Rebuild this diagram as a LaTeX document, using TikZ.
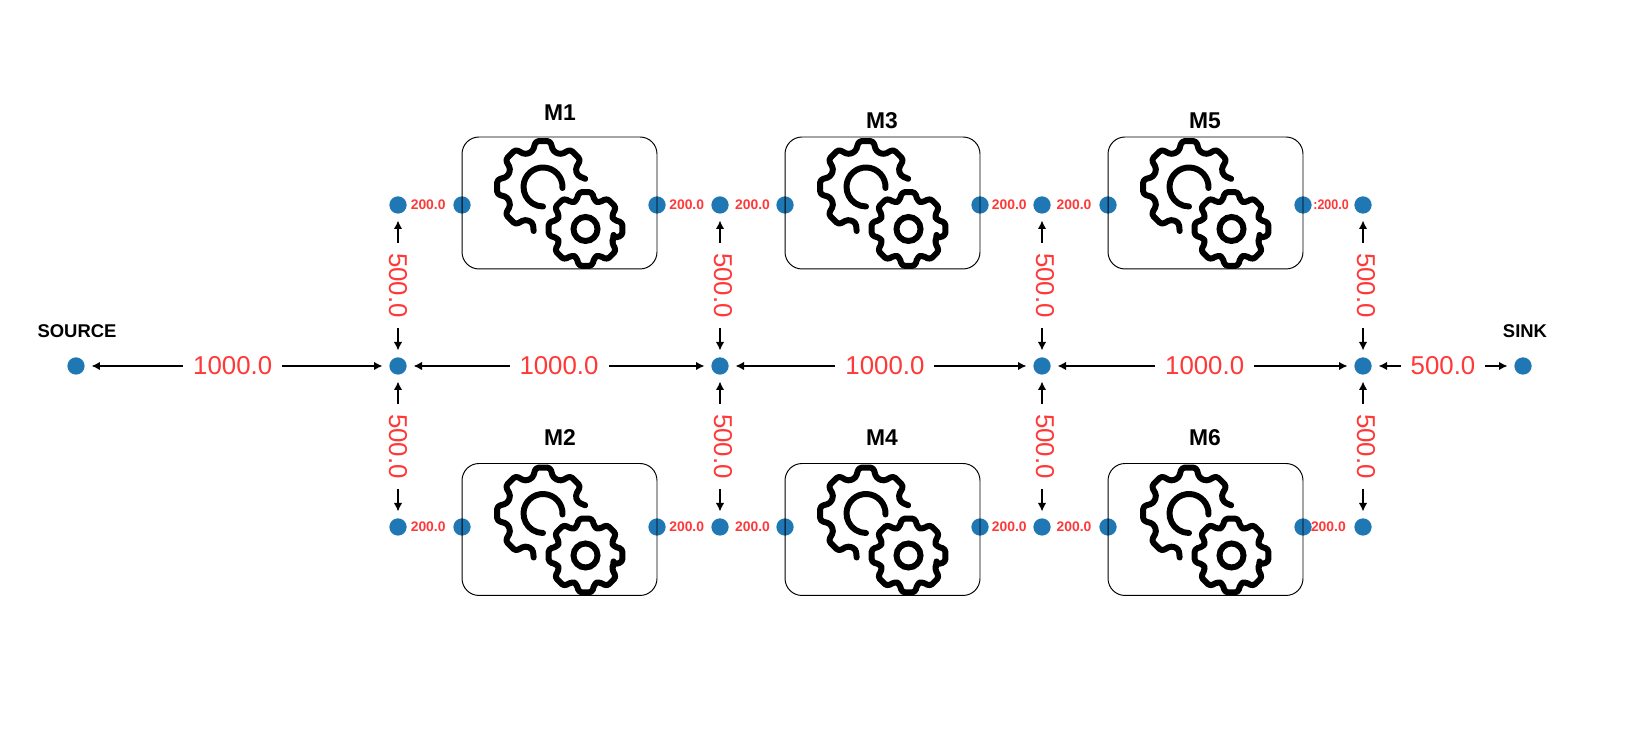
\documentclass[tikz,border=0pt]{standalone}
\usepackage{fontspec}
\setmainfont{Liberation Sans}
\usetikzlibrary{arrows.meta}

\definecolor{portblue}{HTML}{1F77B4}
\definecolor{labelred}{HTML}{FF3838}

\tikzset{
  port/.style={circle, fill=portblue, minimum size=0.346cm, inner sep=0pt},
  machine/.style={draw, rectangle, rounded corners=0.34cm, minimum width=3.9cm, minimum height=2.64cm, line width=0.55pt},
  title/.style={font=\bfseries\fontsize{13}{15}\selectfont},
  endtitle/.style={font=\bfseries\fontsize{10.5}{12}\selectfont},
  biglabel/.style={font=\fontsize{14.7}{16}\selectfont, text=labelred, fill=white, inner sep=0.2cm, minimum height=0.4cm},
  smalllabel/.style={font=\bfseries\fontsize{7.9}{9}\selectfont, text=labelred, inner sep=0pt},
  link/.style={{Latex[length=0.17cm,width=0.17cm]}-{Latex[length=0.17cm,width=0.17cm]}, line width=0.85pt, shorten >=0.13cm, shorten <=0.13cm},
  gearline/.style={line width=3.4pt, line cap=round, line join=round, rounded corners=1.8pt},
  gears/.pic={
    % big wheel, open on the side of the small one
    \draw[gearline, shift={(-16.5,16)}] (11:43) -- (18:36.5)
      \foreach \a in {45,90,...,225} { -- (\a-16:37) -- (\a-9:46.5) -- (\a+9:46.5) -- (\a+16:37) }
      -- (254:37) -- (258:45);
    \draw[gearline, shift={(-16.5,16)}] (-3:19.5) arc (-3:270:19.5);
    % small wheel
    \draw[gearline, shift={(26,-26)}] (-18:29.5)
      \foreach \a in {0,45,...,315} { -- (\a-18:29.5) -- (\a-10:37.5) -- (\a+10:37.5) -- (\a+18:29.5) } -- cycle;
    \draw[line width=3.4pt] (26,-26) circle (12);
  }
}

\begin{document}
\begin{tikzpicture}[x=0.02cm, y=0.02cm]
  \useasboundingbox (0,0) rectangle (1629,743);

  % junctions
  \foreach \i/\x in {1/398, 2/720, 3/1042, 4/1363} {
    \node[port] (t\i) at (\x,538) {};
    \node[port] (c\i) at (\x,377) {};
    \node[port] (b\i) at (\x,216) {};
  }
  \node[port] (source) at (76,377) {};
  \node[port] (sink) at (1523,377) {};
  \node[endtitle] (tsource) at (77,412) {SOURCE};
  \node[endtitle] (tsink) at (1525,412) {SINK};

  % main line
  \draw[link] (source) -- node[biglabel, pos=0.486] (l1) {1000.0} (c1);
  \draw[link] (c1) -- node[biglabel] (l2) {1000.0} (c2);
  \draw[link] (c2) -- node[biglabel, pos=0.513] (l3) {1000.0} (c3);
  \draw[link] (c3) -- node[biglabel, pos=0.507] (l4) {1000.0} (c4);
  \draw[link] (c4) -- node[biglabel] (l5) {500.0} (sink);

  % risers
  \foreach \i/\d in {1/0, 2/3, 3/3, 4/3} {
    \draw[link] (c\i) -- node[biglabel, rotate=-90, yshift=\d*0.02cm] (u\i) {500.0} (t\i);
    \draw[link] (c\i) -- node[biglabel, rotate=-90, yshift=\d*0.02cm] (d\i) {500.0} (b\i);
  }

  % machines, outline on top of the ports
  \foreach \name/\x/\y/\r in {m1/559.5/540/538, m2/559.5/213.5/216, m3/882.5/540/538, m4/882.5/213.5/216, m5/1205.5/540/538, m6/1205.5/213.5/216} {
    \node[port] (\name l) at (\x-97.5,\r) {};
    \node[port] (\name r) at (\x+97.5,\r) {};
    \node[machine] (\name) at (\x,\y) {};
    \pic at (\name) {gears};
  }

  \node[title] (tm1) at (560,630) {M1};
  \node[title] (tm2) at (560,305) {M2};
  \node[title] (tm3) at (882,622.5) {M3};
  \node[title] (tm4) at (882,305) {M4};
  \node[title] (tm5) at (1205,622.5) {M5};
  \node[title] (tm6) at (1205,305) {M6};

  % short labels last
  \foreach \a/\b/\p in {t1/m1l/0.46, m1r/t2/0.46, t2/m3l/0.5, m3r/t3/0.46, t3/m5l/0.48, b1/m2l/0.46, m2r/b2/0.46, b2/m4l/0.5, m4r/b3/0.46, b3/m6l/0.48, m6r/b4/0.39} {
    \path (\a) -- node[smalllabel, pos=\p] (s\a) {200.0} (\b);
  }
  \node[smalllabel, fill=white, anchor=west, minimum height=0.4cm] (sm5r) at (1313,538) {\scalebox{0.9}[1]{:200.0}\hspace{5.5pt}};
\end{tikzpicture}
\end{document}
